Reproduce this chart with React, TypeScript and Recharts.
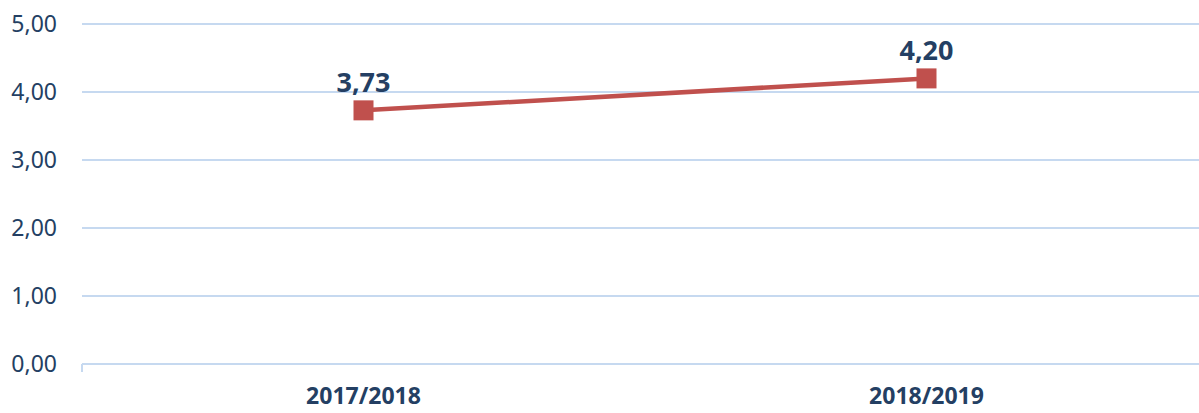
import { LineChart, Line, XAxis, YAxis, CartesianGrid, LabelList } from "recharts";

const seasons = ["2017/2018", "2018/2019"];
const scores = [3.73, 4.2];
const yTicks = [0, 1, 2, 3, 4, 5];
const edgeTicks = [0, 1, 2];

const data = seasons.map((season, i) => ({ season, score: scores[i] }));

const navy = "#243F63";
const grid = "#C6D9F0";
const red = "#C0504D";

const fmt = (v: number) => v.toFixed(2).replace(".", ",");

const SquareDot = (props: any) => {
  const { cx, cy, index } = props;
  if (cx == null || cy == null) return null;
  return <rect key={index} x={cx - 10} y={cy - 10} width={20} height={20} fill={red} />;
};

export default function App() {
  return (
    <div style={{ position: "absolute", left: 0, top: 0, width: 1199, height: 413, overflow: "hidden", background: "#fff" }}>
      <LineChart
        width={1208}
        height={413}
        data={data}
        margin={{ top: 24, right: 0, left: 0, bottom: 0 }}
      >
        <CartesianGrid xAxisId="seasons" vertical={false} stroke={grid} strokeWidth={2} />
        <XAxis
          xAxisId="edges"
          type="number"
          domain={[0, 2]}
          ticks={edgeTicks}
          height={8}
          axisLine={{ stroke: grid, strokeWidth: 2 }}
          tickLine={{ stroke: grid, strokeWidth: 2 }}
          tickSize={8}
          tickFormatter={() => ""}
        />
        <XAxis
          xAxisId="seasons"
          dataKey="season"
          scale="band"
          height={41}
          axisLine={false}
          tickLine={false}
          tickMargin={10}
          interval={0}
          tick={{ fill: navy, fontSize: 23, fontWeight: 700, fontFamily: "Noto Sans" }}
        />
        <YAxis
          domain={[0, 5]}
          ticks={yTicks}
          width={82}
          axisLine={false}
          tickLine={false}
          tickMargin={19}
          tickFormatter={fmt}
          tick={{ fill: navy, fontSize: 23, fontFamily: "Noto Sans" }}
        />
        <Line
          xAxisId="seasons"
          dataKey="score"
          stroke={red}
          strokeWidth={4.5}
          dot={SquareDot}
          activeDot={false}
          isAnimationActive={false}
        >
          <LabelList
            dataKey="score"
            position="top"
            offset={18}
            formatter={(v: any) => fmt(Number(v))}
            fill={navy}
            fontSize={27}
            fontWeight={700}
            fontFamily="Noto Sans"
          />
        </Line>
      </LineChart>
    </div>
  );
}
